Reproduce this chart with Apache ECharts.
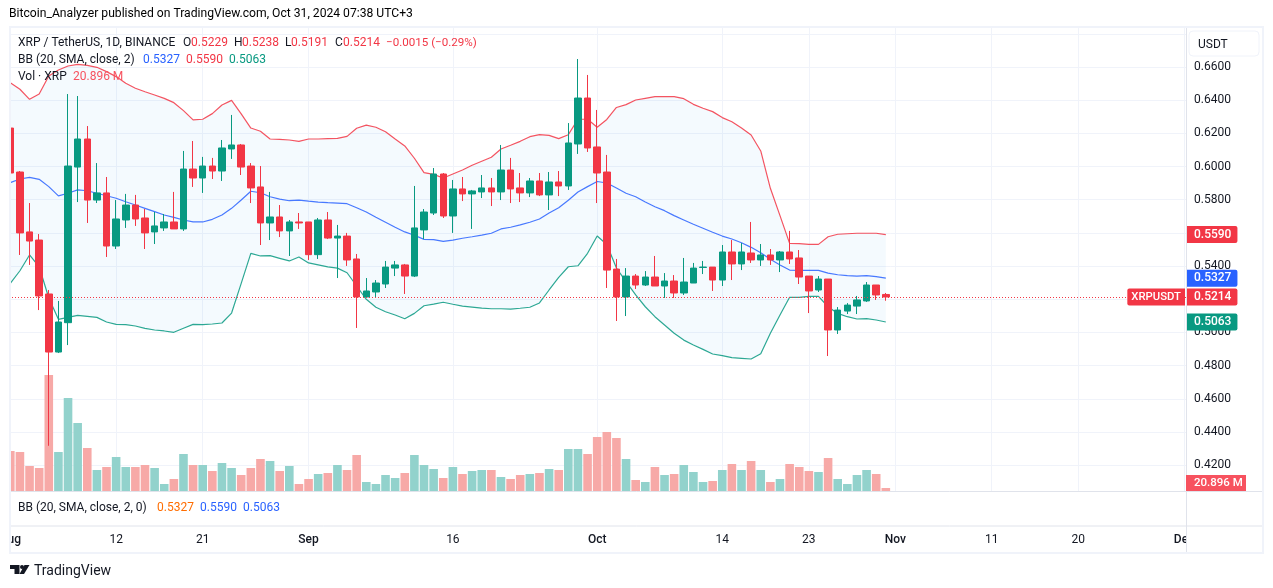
<!DOCTYPE html>
<html>
<head>
<meta charset="utf-8">
<title>XRP / TetherUS</title>
<script src="https://cdn.jsdelivr.net/npm/echarts@6/dist/echarts.min.js"></script>
<style>
    html, body { margin: 0; padding: 0; background: #fff; }
    #chart { width: 1273px; height: 588px; }
</style>
</head>
<body>
<div id="chart"></div>
<script>
const opens = [0.6232,0.5967,0.5606,0.5557,0.5232,0.4882,0.5059,0.5997,0.6166,0.5798,0.5841,0.5521,0.5678,0.5768,0.5690,0.5606,0.5630,0.5666,0.5624,0.5985,0.5931,0.6003,0.5973,0.6106,0.6130,0.6003,0.5877,0.5660,0.5696,0.5612,0.5666,
    0.5666,0.5469,0.5678,0.5569,0.5581,0.5443,0.5214,0.5244,0.5292,0.5388,0.5407,0.5340,0.5618,0.5720,0.5955,0.5702,0.5865,0.5835,0.5847,0.5871,0.5847,0.5979,0.5871,0.5841,0.5913,0.5829,0.5907,0.5883,0.6136,0.6413,
    0.6118,0.5967,0.5382,0.5214,0.5340,0.5286,0.5334,0.5280,0.5310,0.5238,0.5298,0.5392,0.5394,0.5316,0.5485,0.5413,0.5479,0.5437,0.5467,0.5437,0.5485,0.5449,0.5340,0.5256,0.5322,0.5015,0.5129,0.5159,0.5190,0.5286,0.5229];
const closes = [0.5961,0.5600,0.5551,0.5220,0.4882,0.5063,0.6003,0.6166,0.5798,0.5841,0.5521,0.5684,0.5768,0.5684,0.5600,0.5642,0.5666,0.5624,0.5985,0.5931,0.6003,0.5973,0.6112,0.6130,0.5997,0.5871,0.5660,0.5696,0.5612,0.5666,0.5660,
    0.5469,0.5678,0.5569,0.5581,0.5437,0.5214,0.5250,0.5298,0.5394,0.5407,0.5340,0.5630,0.5726,0.5955,0.5702,0.5865,0.5835,0.5853,0.5871,0.5847,0.5979,0.5865,0.5841,0.5913,0.5829,0.5907,0.5883,0.6142,0.6413,0.6112,
    0.5961,0.5376,0.5214,0.5340,0.5286,0.5334,0.5280,0.5310,0.5238,0.5304,0.5388,0.5394,0.5316,0.5485,0.5413,0.5485,0.5437,0.5467,0.5437,0.5485,0.5443,0.5334,0.5250,0.5322,0.5015,0.5135,0.5165,0.5196,0.5286,0.5226,0.5214];
const lows = [0.5684,0.5467,0.5407,0.5135,0.4317,0.4876,0.4924,0.5786,0.5660,0.5780,0.5455,0.5503,0.5630,0.5642,0.5503,0.5533,0.5612,0.5624,0.5612,0.5877,0.5841,0.5925,0.5913,0.6046,0.5949,0.5780,0.5527,0.5557,0.5575,0.5461,0.5624,
    0.5437,0.5443,0.5563,0.5328,0.5401,0.5027,0.5208,0.5214,0.5268,0.5340,0.5232,0.5334,0.5563,0.5708,0.5690,0.5600,0.5792,0.5624,0.5810,0.5762,0.5798,0.5780,0.5786,0.5816,0.5822,0.5738,0.5822,0.5859,0.6076,0.6088,
    0.5780,0.5268,0.5069,0.5099,0.5262,0.5280,0.5280,0.5208,0.5208,0.5226,0.5298,0.5352,0.5250,0.5280,0.5316,0.5376,0.5419,0.5401,0.5407,0.5364,0.5413,0.5292,0.5117,0.5244,0.4858,0.4991,0.5111,0.5111,0.5184,0.5196,0.5191];
const highs = [0.6299,0.5973,0.5780,0.5593,0.5256,0.5190,0.6437,0.6425,0.6244,0.6021,0.5937,0.5798,0.5835,0.5829,0.5744,0.5726,0.5714,0.5847,0.6094,0.6154,0.6058,0.6052,0.6160,0.6311,0.6136,0.6021,0.6003,0.5847,0.5768,0.5678,0.5720,
    0.5666,0.5690,0.5726,0.5648,0.5600,0.5473,0.5328,0.5316,0.5431,0.5431,0.5413,0.5883,0.5744,0.5991,0.5961,0.5919,0.5937,0.5859,0.5949,0.5931,0.6130,0.6052,0.5961,0.5931,0.5961,0.5967,0.5973,0.6262,0.6648,0.6552,
    0.6341,0.6070,0.5443,0.5388,0.5352,0.5370,0.5461,0.5358,0.5346,0.5449,0.5419,0.5431,0.5394,0.5527,0.5557,0.5539,0.5666,0.5533,0.5503,0.5491,0.5612,0.5497,0.5340,0.5340,0.5322,0.5153,0.5177,0.5220,0.5304,0.5286,0.5238];
// millions of XRP
const volumes = [280,273,175,161,812,273,651,476,301,147,168,238,168,168,182,161,49,84,259,182,182,140,196,161,112,161,224,210,140,175,49,
    84,119,126,182,147,252,63,49,112,91,126,252,182,154,91,168,119,140,147,147,98,84,112,119,126,154,147,294,294,259,
    378,413,371,224,77,63,168,112,119,182,133,63,70,147,189,147,210,147,63,84,189,168,140,133,231,84,49,112,147,119,20.896];
const bbUpper = [0.6505,0.6466,0.6405,0.6437,0.6546,0.6582,0.6606,0.6616,0.6610,0.6598,0.6572,0.6542,0.6502,0.6472,0.6451,0.6431,0.6411,0.6385,0.6337,0.6281,0.6285,0.6319,0.6371,0.6399,0.6317,0.6232,0.6213,0.6166,0.6164,0.6160,0.6152,
    0.6166,0.6166,0.6168,0.6170,0.6182,0.6231,0.6250,0.6237,0.6210,0.6166,0.6124,0.6050,0.5963,0.5953,0.5931,0.5955,0.5979,0.6008,0.6032,0.6056,0.6106,0.6128,0.6152,0.6180,0.6192,0.6188,0.6168,0.6192,0.6285,0.6285,
    0.6237,0.6284,0.6356,0.6373,0.6401,0.6411,0.6421,0.6421,0.6421,0.6409,0.6375,0.6351,0.6331,0.6295,0.6270,0.6232,0.6190,0.6094,0.5869,0.5704,0.5537,0.5535,0.5531,0.5531,0.5577,0.5592,0.5595,0.5598,0.5598,0.5598,0.5590];
const bbBasis = [0.5903,0.5925,0.5935,0.5923,0.5879,0.5823,0.5839,0.5859,0.5854,0.5839,0.5824,0.5809,0.5788,0.5768,0.5748,0.5728,0.5708,0.5694,0.5678,0.5666,0.5666,0.5682,0.5708,0.5748,0.5798,0.5851,0.5842,0.5818,0.5804,0.5794,0.5798,
    0.5791,0.5786,0.5782,0.5780,0.5776,0.5752,0.5726,0.5694,0.5664,0.5634,0.5606,0.5586,0.5561,0.5559,0.5549,0.5557,0.5568,0.5577,0.5587,0.5598,0.5624,0.5634,0.5648,0.5664,0.5684,0.5720,0.5752,0.5797,0.5847,0.5879,
    0.5910,0.5901,0.5871,0.5839,0.5818,0.5786,0.5758,0.5734,0.5704,0.5678,0.5652,0.5628,0.5604,0.5581,0.5563,0.5541,0.5513,0.5481,0.5441,0.5407,0.5376,0.5374,0.5374,0.5374,0.5358,0.5348,0.5342,0.5340,0.5342,0.5336,0.5327];
const bbLower = [0.5296,0.5372,0.5467,0.5396,0.5208,0.5079,0.5091,0.5103,0.5097,0.5091,0.5063,0.5049,0.5047,0.5039,0.5025,0.5015,0.5009,0.5001,0.5025,0.5049,0.5047,0.5051,0.5057,0.5117,0.5296,0.5477,0.5461,0.5463,0.5447,0.5431,0.5455,
    0.5419,0.5407,0.5395,0.5388,0.5360,0.5280,0.5200,0.5152,0.5125,0.5105,0.5083,0.5115,0.5161,0.5171,0.5182,0.5170,0.5159,0.5153,0.5147,0.5143,0.5143,0.5141,0.5146,0.5152,0.5178,0.5256,0.5332,0.5396,0.5402,0.5477,
    0.5581,0.5530,0.5388,0.5306,0.5226,0.5155,0.5095,0.5045,0.4995,0.4954,0.4924,0.4898,0.4870,0.4860,0.4848,0.4844,0.4840,0.4872,0.4995,0.5105,0.5212,0.5212,0.5218,0.5218,0.5155,0.5115,0.5095,0.5081,0.5083,0.5075,0.5063];
// day number counted from Aug 1
const tickDays = [0, 11, 20, 31, 46, 61, 74, 83, 92, 102, 111, 122];
const tickNames = ["Aug", "12", "21", "Sep", "16", "Oct", "14", "23", "Nov", "11", "20", "Dec"];
const priceLabels = [0.42, 0.44, 0.46, 0.48, 0.50, 0.52, 0.54, 0.56, 0.58, 0.60, 0.62, 0.64, 0.66];
const priceLines = priceLabels.concat(0.68);

const UP = "#089981";
const DOWN = "#f23645";
const BLUE = "#2962ff";
const INK = "#131722";
const FONT = "Roboto, sans-serif";
const lastClose = closes[closes.length - 1];
// grid starts left of the frame so the first candle fits, the frame hides the overhang
const xMin = -0.759;
const xMax = 122.2;

const withDay = values => values.map((value, day) => [day, value]);
const isUp = day => closes[day] >= opens[day];

// price tag sitting on the scale, anchored to its value by a markLine
const tagLine = (value, color, line) => ({
    symbol: "none",
    silent: true,
    animation: false,
    precision: 4,
    lineStyle: line || { color: "transparent", width: 0 },
    label: {
        show: true,
        position: "end",
        distance: 0,
        formatter: value.toFixed(4),
        color: "#fff",
        fontFamily: FONT,
        fontSize: 12,
        fontWeight: 500,
        lineHeight: 13,
        backgroundColor: color,
        borderRadius: [0, 2, 2, 0],
        padding: [2, 6, 2, 8],
    },
    data: [{ yAxis: value }],
});

const bbLine = (name, values, color, tagColor) => ({
    name,
    type: "line",
    data: withDay(values),
    showSymbol: false,
    symbol: "none",
    z: 3,
    lineStyle: { color, width: 1.2, opacity: 0.85 },
    markLine: tagLine(values[values.length - 1], tagColor),
});

const text = (x, y, content, fill, extra) => ({
    type: "text",
    z: 120,
    silent: true,
    style: Object.assign({
        x, y: y + 1, text: content, fill,
        font: "12px " + FONT,
        verticalAlign: "middle",
    }, extra),
});

const block = (x, y, width, height, fill, z) => ({
    type: "rect",
    z: z || 110,
    silent: true,
    shape: { x, y, width, height },
    style: { fill },
});

const headerLines = [
    text(18, 42, "XRP / TetherUS, 1D, BINANCE", INK),
    text(183, 42, "O", INK), text(191, 42, "0.5229", DOWN),
    text(234, 42, "H", INK), text(242, 42, "0.5238", DOWN),
    text(285, 42, "L", INK), text(291, 42, "0.5191", DOWN),
    text(335, 42, "C", INK), text(343, 42, "0.5214", DOWN),
    text(386, 42, "−0.0015 (−0.29%)", DOWN, { font: "11.6px " + FONT }),
    text(18, 59, "BB (20, SMA, close, 2)", INK),
    text(143, 59, "0.5327", BLUE), text(186, 59, "0.5590", DOWN), text(229, 59, "0.5063", UP),
    text(18, 76, "Vol · XRP", INK), text(73, 76, "20.896 M", "#f7525f"),
    text(18, 507, "BB (20, SMA, close, 2, 0)", INK),
    text(157, 507, "0.5327", "#ff6d00"), text(200, 507, "0.5590", BLUE), text(243, 507, "0.5063", BLUE),
];

// one polygon between the two outer bands
const renderBand = (params, api) => {
    if (params.dataIndex !== 0) {
        return null;
    }
    const top = bbUpper.map((value, day) => api.coord([day, value]));
    const bottom = bbLower.map((value, day) => api.coord([day, value])).reverse();
    return {
        type: "polygon",
        shape: { points: top.concat(bottom) },
        style: { fill: "rgba(33,150,243,0.05)" },
    };
};

const renderVolume = (params, api) => {
    const day = api.value(0);
    const top = api.coord([day, api.value(1)]);
    const bottom = api.coord([day, 0]);
    return {
        type: "rect",
        shape: { x: top[0] - 4.3, y: top[1], width: 8.6, height: bottom[1] - top[1] },
        style: { fill: isUp(day) ? "#92d2cc" : "#f7a9a7" },
    };
};

const chart = echarts.init(document.getElementById("chart"));
chart.setOption({
    animation: false,
    backgroundColor: "#fff",
    grid: { left: 3, top: 28, width: 1183, height: 463, containLabel: false, outerBoundsMode: "none" },
    xAxis: {
        type: "value",
        min: xMin,
        max: xMax,
        axisLine: { show: false },
        axisTick: { show: false, customValues: tickDays },
        splitLine: { show: true, lineStyle: { color: "#f0f3fa", width: 1 } },
        axisLabel: {
            customValues: tickDays,
            margin: 43,
            color: INK,
            fontFamily: FONT,
            fontSize: 12,
            formatter: value => {
                const name = tickNames[tickDays.indexOf(value)];
                return isNaN(Number(name)) ? `{month|${name}}` : name;
            },
            rich: { month: { fontFamily: FONT, fontSize: 12, fontWeight: 500, color: INK } },
        },
    },
    yAxis: [
        {
            type: "value",
            position: "right",
            min: 0.40445,
            max: 0.6835,
            axisLine: { show: true, lineStyle: { color: "#e0e3eb" } },
            axisTick: { show: false, customValues: priceLines },
            splitLine: { show: true, lineStyle: { color: "#f0f3fa", width: 1 } },
            axisLabel: {
                customValues: priceLabels,
                margin: 8,
                padding: [3, 0, 0, 0],
                color: INK,
                fontFamily: FONT,
                fontSize: 12,
                formatter: value => value.toFixed(4),
            },
        },
        { type: "value", min: 0, max: 3241, show: false, splitLine: { show: false } },
    ],
    series: [
        {
            name: "Vol",
            type: "custom",
            yAxisIndex: 1,
            clip: true,
            z: 1,
            encode: { x: 0, y: 1 },
            data: withDay(volumes),
            renderItem: renderVolume,
        },
        {
            name: "band",
            type: "custom",
            clip: true,
            z: 1,
            encode: { x: 0, y: 1 },
            data: withDay(bbUpper),
            renderItem: renderBand,
        },
        bbLine("Upper", bbUpper, "#f23645", DOWN),
        bbLine("Basis", bbBasis, BLUE, BLUE),
        bbLine("Lower", bbLower, UP, UP),
        {
            name: "XRPUSDT",
            type: "candlestick",
            layout: "horizontal",
            barWidth: 7,
            z: 4,
            encode: { x: 0, y: [1, 2, 3, 4] },
            data: opens.map((open, day) => [day, open, closes[day], lows[day], highs[day]]),
            itemStyle: {
                color: UP,
                color0: DOWN,
                borderColor: UP,
                borderColor0: DOWN,
                borderWidth: 1,
            },
            markLine: tagLine(lastClose, DOWN, { color: DOWN, type: [1, 2], width: 1 }),
            markPoint: {
                symbolSize: 0,
                silent: true,
                animation: false,
                data: [{ coord: [xMax, lastClose] }],
                label: {
                    show: true,
                    position: "left",
                    distance: 1,
                    formatter: "XRPUSDT",
                    color: "#fff",
                    fontFamily: FONT,
                    fontSize: 11.3,
                    fontWeight: 500,
                    lineHeight: 13,
                    backgroundColor: DOWN,
                    borderRadius: [2, 0, 0, 2],
                    padding: [2, 4, 2, 4],
                },
            },
        },
    ],
    graphic: [
        // top and bottom page text
        text(9, 13, "Bitcoin_Analyzer published on TradingView.com, Oct 31, 2024 07:38 UTC+3", "#000", { font: "12.15px " + FONT }),
        text(34, 570, "TradingView", INK, { font: "14px " + FONT }),
        // frame pieces cover what falls outside the chart frame
        block(0, 27, 10, 527, "#fff"),
        block(1187, 527, 75, 25, "#fff"),
        {
            type: "rect", z: 115, silent: true,
            shape: { x: 10, y: 27, width: 1253, height: 526 },
            style: { fill: "none", stroke: "#f0f3fa", lineWidth: 2 },
        },
        { type: "line", z: 115, silent: true, shape: { x1: 11, y1: 491.5, x2: 1262, y2: 491.5 }, style: { stroke: "#e0e3eb" } },
        { type: "line", z: 115, silent: true, shape: { x1: 11, y1: 526, x2: 1262, y2: 526 }, style: { stroke: "#e0e3eb" } },
        { type: "line", z: 115, silent: true, shape: { x1: 1186.5, y1: 28, x2: 1186.5, y2: 552 }, style: { stroke: "#e0e3eb" } },
        // currency box
        {
            type: "rect", z: 110, silent: true,
            shape: { x: 1189, y: 31, width: 70, height: 25, r: 4 },
            style: { fill: "#fff", stroke: "#f0f3fa", lineWidth: 1 },
        },
        text(1198, 44, "USDT", INK),
        // volume tag stays pinned to the pane bottom
        block(1186, 475, 60, 16, "#f7525f", 116),
        text(1194, 482.5, "20.896 M", "#fff", { font: "500 11.5px " + FONT }),
        // logo
        {
            type: "polygon", z: 120, silent: true,
            shape: { points: [[10, 565], [19.5, 565], [19.5, 574], [14.5, 574], [14.5, 569], [10, 569]] },
            style: { fill: INK },
        },
        { type: "circle", z: 120, silent: true, shape: { cx: 22, cy: 567, r: 2 }, style: { fill: INK } },
        {
            type: "polygon", z: 120, silent: true,
            shape: { points: [[24.5, 565], [29.5, 565], [24, 574], [19.5, 574]] },
            style: { fill: INK },
        },
    ].concat(headerLines),
});
</script>
</body>
</html>
